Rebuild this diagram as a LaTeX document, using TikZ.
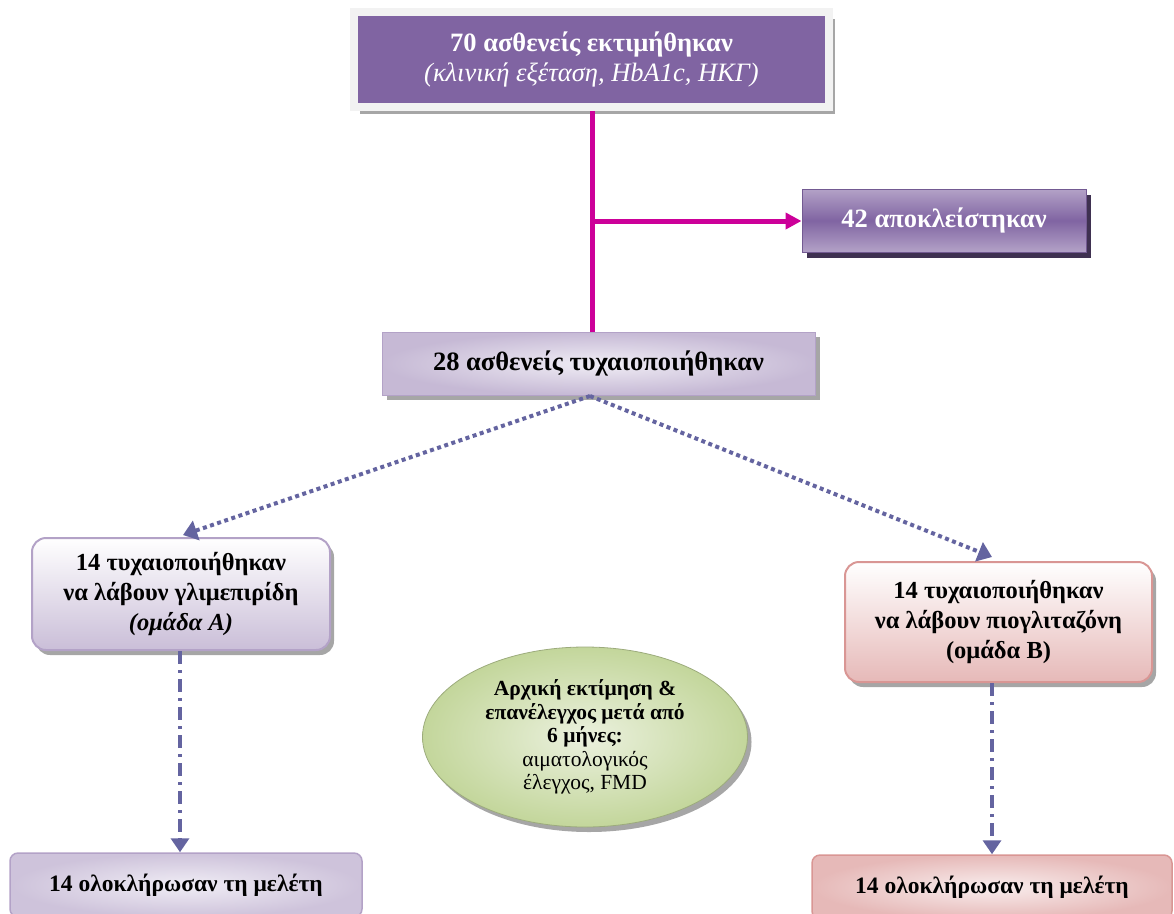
\documentclass[tikz,border=0pt]{standalone}
\usepackage{fontspec}
\setmainfont{Liberation Serif}
\usetikzlibrary{shapes.geometric,shadows,arrows.meta,calc}

\definecolor{purpleMain}{HTML}{8064A2}
\definecolor{purpleLight}{HTML}{B3A2C7}
\definecolor{purpleDark}{HTML}{3F3151}
\definecolor{lavender}{HTML}{F0EDF5}
\definecolor{frameGrey}{HTML}{F2F2F2}
\definecolor{shadowGrey}{HTML}{A6A6A6}
\definecolor{magentaLine}{HTML}{CC0099}
\definecolor{slateLine}{HTML}{6464A0}
\definecolor{pinkBorder}{HTML}{D99694}
\definecolor{pinkFill}{HTML}{E6B9B8}
\definecolor{greenFill}{HTML}{C3D69B}
\definecolor{greenLight}{HTML}{EBF1DE}

\begin{document}
\begin{tikzpicture}[x=1pt,y=-1pt,
  bodytext/.style={font=\fontsize{26.5}{30}\selectfont\bfseries, align=center, inner sep=0pt},
  armtext/.style={font=\fontsize{24.5}{30}\selectfont\bfseries, align=center, inner sep=0pt},
  topbox/.style={bodytext, text=white, fill=purpleMain, draw=frameGrey, line width=8pt,
    minimum width=475pt, minimum height=95pt,
    drop shadow={shadow xshift=6pt, shadow yshift=-7pt, fill=shadowGrey, opacity=1}},
  exclbox/.style={bodytext, text=white, draw=purpleMain!90!black, line width=1pt,
    top color=purpleLight, bottom color=purpleLight, middle color=purpleMain,
    minimum width=284pt, minimum height=63pt,
    drop shadow={shadow xshift=5pt, shadow yshift=-6pt, fill=purpleDark, opacity=1}},
  randbox/.style={bodytext, draw=purpleLight, line width=1pt,
    shading=radial, inner color=lavender, outer color=purpleLight!75,
    minimum width=433pt, minimum height=63pt,
    drop shadow={shadow xshift=5pt, shadow yshift=-5pt, fill=shadowGrey, opacity=1}},
  armA/.style={armtext, draw=purpleLight, line width=2pt, rounded corners=14pt,
    top color=white, bottom color=purpleLight!70,
    minimum width=298pt, minimum height=112pt,
    drop shadow={shadow xshift=4pt, shadow yshift=-5pt, fill=shadowGrey, opacity=1}},
  armB/.style={armtext, draw=pinkBorder, line width=2pt, rounded corners=14pt,
    top color=white, bottom color=pinkFill,
    minimum width=307pt, minimum height=120pt,
    drop shadow={shadow xshift=4pt, shadow yshift=-5pt, fill=shadowGrey, opacity=1}},
  doneA/.style={armtext, font=\fontsize{23.5}{28}\selectfont\bfseries,
    draw=purpleLight, line width=1.5pt, rounded corners=8pt,
    shading=radial, inner color=lavender, outer color=purpleLight!65,
    minimum width=352pt, minimum height=64pt},
  doneB/.style={armtext, font=\fontsize{23.5}{28}\selectfont\bfseries,
    draw=pinkBorder, line width=1.5pt, rounded corners=8pt,
    shading=radial, inner color=pinkFill!25, outer color=pinkFill,
    minimum width=360pt, minimum height=64pt},
  notebox/.style={ellipse, draw=greenFill!80!black, line width=0.8pt,
    shading=radial, inner color=greenLight, outer color=greenFill,
    minimum width=325pt, minimum height=180pt, inner sep=0pt, align=center,
    font=\fontsize{21.5}{23.5}\selectfont,
    drop shadow={shadow xshift=4pt, shadow yshift=-5pt, fill=shadowGrey, opacity=1}},
  flowline/.style={draw=magentaLine, line width=5pt},
  flowarrow/.style={flowline, -{Triangle[length=16pt,width=16pt]}},
  dotarrow/.style={draw=slateLine, line width=4pt, dash pattern=on 4pt off 3.5pt,
    -{Triangle[length=14pt,width=20pt]}},
  dasharrow/.style={draw=slateLine, line width=3.5pt,
    dash pattern=on 13pt off 6pt on 3pt off 6pt,
    -{Triangle[length=14pt,width=18pt]}}
]
\useasboundingbox (0,0) rectangle (1174,913);
\clip (0,0) rectangle (1174,913);

% boxes of the flow
\node[topbox] (assessed) at (591.5,59.5)
  {70 ασθενείς εκτιμήθηκαν\\ \mdseries\itshape (κλινική εξέταση, HbA1c, ΗΚΓ)};
\node[exclbox] (excluded) at (944,220.5) {42 αποκλείστηκαν};
\node[randbox] (randomised) at (598.5,363.5) {28 ασθενείς τυχαιοποιήθηκαν};

\node[armA] (groupA) at (181,594)
  {14 τυχαιοποιήθηκαν\\να λάβουν γλιμεπιρίδη\\ \itshape (ομάδα Α)};
\node[armB] (groupB) at (998.5,622)
  {14 τυχαιοποιήθηκαν\\να λάβουν πιογλιταζόνη\\(ομάδα Β)};

\node[notebox] (followup) at (585,737)
  {\bfseries Αρχική εκτίμηση \&\\ \bfseries επανέλεγχος μετά από\\ \bfseries 6 μήνες:\\
   αιματολογικός\\έλεγχος, FMD};

\node[doneA] (completedA) at (186,885) {14 ολοκλήρωσαν τη μελέτη};
\node[doneB] (completedB) at (992,887) {14 ολοκλήρωσαν τη μελέτη};

% connectors
\coordinate (split) at (592,221);
\draw[flowline] (assessed.south -| split) -- (randomised.north -| split);
\draw[flowarrow] (split) -- (excluded.west |- split);

\coordinate (fork) at (590,396);
\coordinate (tipA) at (183,535);
\coordinate (tipB) at (992,557);
\draw[dotarrow] (fork) -- (tipA);
\draw[dotarrow] (fork) -- (tipB);

\draw[dasharrow] (groupA.south -| 180,0) -- (completedA.north -| 180,0);
\draw[dasharrow] (groupB.south -| completedB.north) -- (completedB.north);
\end{tikzpicture}
\end{document}
